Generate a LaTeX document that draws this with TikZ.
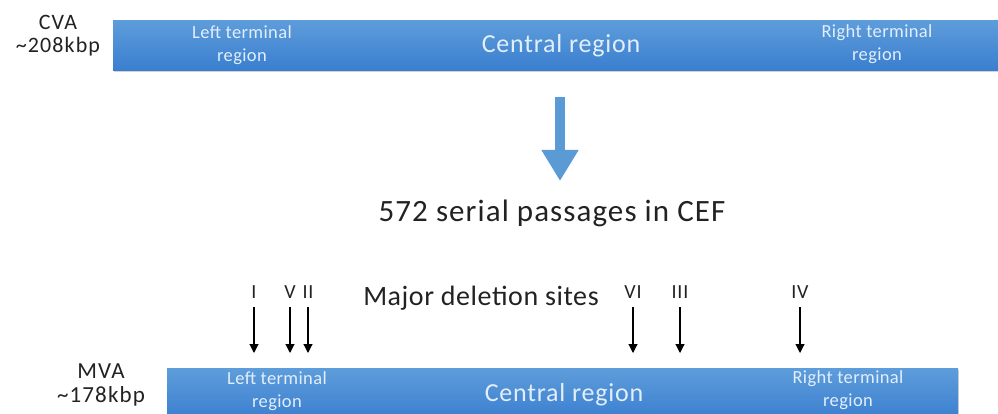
\documentclass[tikz,border=0pt]{standalone}
\usepackage{fontspec}
\setmainfont{Carlito}
\usetikzlibrary{arrows.meta,shadows}
\definecolor{bartop}{HTML}{5E9DDB}
\definecolor{barbot}{HTML}{3A7ECF}
\definecolor{bartext}{HTML}{E2EEFA}
\definecolor{bigarrow}{HTML}{5B9BD5}
\definecolor{ink}{HTML}{222222}
\tikzset{
  genome/.style={draw=none, top color=bartop, bottom color=barbot,
    drop shadow={shadow xshift=1pt, shadow yshift=-2pt, fill=black!35, opacity=0.5}},
  smalltxt/.style={text=bartext, font=\fontsize{18.5}{23}\selectfont\addfontfeature{LetterSpace=2}, align=center, inner sep=0pt, anchor=base},
  midtxt/.style={text=bartext, font=\fontsize{26}{28}\selectfont\addfontfeature{LetterSpace=3}, inner sep=0pt, anchor=base},
  lbl/.style={text=ink, font=\fontsize{22}{23}\selectfont\addfontfeature{LetterSpace=5}, align=center, inner sep=0pt, anchor=base},
  roman/.style={text=ink, font=\fontsize{20}{22}\selectfont\addfontfeature{LetterSpace=4}, inner sep=0pt, anchor=base},
  site/.style={-{Triangle[length=9pt,width=9pt]}, line width=1.1pt, draw=black},
}
\begin{document}
\begin{tikzpicture}[x=1pt,y=-1pt]
\useasboundingbox (0,0) rectangle (998,414);
\begin{scope}
\clip (0,0) rectangle (998,414);
% top genome
\node[genome, minimum width=885pt, minimum height=50pt, anchor=north west, inner sep=0pt] (cva) at (113,20) {};
\node[smalltxt] (cvaL) at (242,62) {Left terminal\\region};
\node[midtxt] (cvaC) at (561,53) {Central region};
\node[smalltxt] (cvaR) at (877,61) {Right terminal\\region};
\node[lbl] (cvalbl) at (58,53) {CVA\\\textasciitilde208kbp};
% big arrow
\coordinate (bigstart) at (560,97);
\coordinate (bigend) at (560,181);
\draw[bigarrow, line width=10pt, -{Triangle[length=31pt,width=35pt]}] (bigstart) -- (bigend);
\node[text=ink, font=\fontsize{31}{33}\selectfont\addfontfeature{LetterSpace=3.5}, inner sep=0pt, anchor=base] (passages) at (552,222) {572 serial passages in CEF};
% bottom genome
\node[genome, minimum width=791pt, minimum height=52pt, anchor=north west, inner sep=0pt] (mva) at (167,368) {};
\node[smalltxt] (mvaL) at (277,407) {Left terminal\\region};
\node[midtxt] (mvaC) at (564,401) {Central region};
\node[smalltxt] (mvaR) at (848,406) {Right terminal\\region};
\node[lbl, font=\fontsize{23}{24}\selectfont\addfontfeature{LetterSpace=5}] (mvalbl) at (101,402) {MVA\\\textasciitilde178kbp};
\node[text=ink, font=\fontsize{28}{30}\selectfont\addfontfeature{LetterSpace=2}, inner sep=0pt, anchor=base] (major) at (481,305) {Major deletion sites};
% deletion sites
\foreach \nm/\lab/\x in {s1/I/254, s5/V/290, s2/II/308, s6/VI/633, s3/III/680, s4/IV/800} {
  \node[roman] (\nm) at (\x,298) {\lab};
  \coordinate (\nm s) at (\x,307);
  \coordinate (\nm e) at (\x,353);
  \draw[site] (\nm s) -- (\nm e);
}
\end{scope}
\end{tikzpicture}
\end{document}
